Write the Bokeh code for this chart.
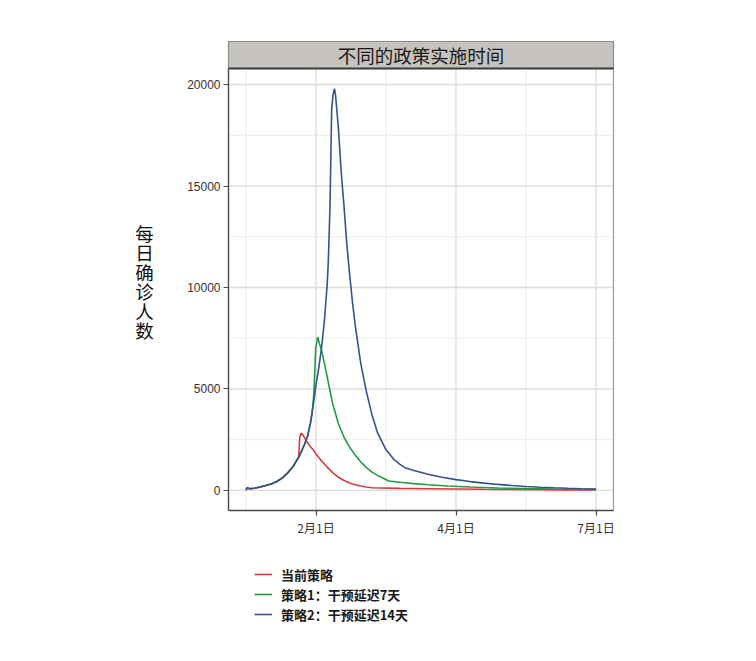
from bokeh.plotting import figure
from bokeh.models import Range1d, FixedTicker, Label, Legend, LegendItem, LinearAxis
from bokeh.embed import file_html
from bokeh.resources import INLINE

# ---------------- data (day index, daily confirmed) ----------------
x_ticks = [50, 100, 150]
x_minor = [25, 75, 125]
x_tick_labels = ["2月1日", "4月1日", "7月1日"]
y_ticks = [0, 5000, 10000, 15000, 20000]
y_minor = [2500, 7500, 12500, 17500]

series_names = ["当前策略", "策略1：干预延迟7天", "策略2：干预延迟14天"]
series_colors = ["#D63C3C", "#1E9C48", "#35528F"]
facet_title = "不同的政策实施时间"
y_title = "每日确诊人数"

red_x = [25, 25.4, 26.3, 28, 30, 32, 34, 36, 38, 40, 42, 43.8, 44.2, 44.7, 45.5, 46.5,
         48, 49, 50, 52, 54, 56, 58, 60, 62, 64, 66, 68, 70, 80, 90, 100, 110, 120,
         130, 140, 150]
red_y = [10, 130, 80, 110, 170, 240, 320, 440, 620, 880, 1220, 1640, 2600, 2830, 2700,
         2450, 2150, 2000, 1800, 1450, 1150, 870, 650, 490, 370, 280, 215, 165, 130, 100,
         85, 70, 55, 45, 35, 28, 22]

green_x = [25, 25.4, 26.3, 28, 30, 32, 34, 36, 38, 40, 42, 44, 46, 47, 48, 48.6, 49.2,
           49.9, 50.6, 51.2, 52, 53, 54, 55, 56, 58, 60, 62, 64, 66, 68, 70, 72, 74, 76,
           80, 85, 90, 97, 105, 115, 125, 135, 150]
green_y = [10, 130, 80, 110, 170, 240, 320, 440, 620, 880, 1220, 1680, 2300, 2680, 3300,
           3800, 4700, 7000, 7560, 7250, 6900, 6250, 5600, 4900, 4250, 3300, 2620, 2130,
           1750, 1400, 1120, 900, 740, 600, 460, 400, 335, 280, 215, 165, 120, 90, 70, 50]

blue_x = [25, 25.4, 26.3, 28, 30, 32, 34, 36, 38, 40, 42, 44, 46, 47, 48, 49, 50, 51, 52,
          53, 54, 54.4, 55, 55.6, 56.1, 56.6, 57, 58, 59, 60, 61, 62, 63, 64, 66, 68, 70,
          72, 75, 78, 80, 82, 85, 90, 95, 100, 105, 110, 115, 120, 125, 130, 135, 140,
          145, 150]
blue_y = [10, 130, 80, 110, 170, 240, 320, 440, 620, 880, 1220, 1680, 2300, 2680, 3300,
          4200, 5200, 6050, 7050, 8350, 10150, 11300, 14000, 18800, 19500, 19800, 19450,
          17850, 15700, 14000, 12150, 10650, 9300, 8150, 6250, 4870, 3720, 2830, 2000,
          1500, 1280, 1100, 980, 800, 650, 530, 435, 360, 295, 240, 195, 158, 128, 104,
          84, 68]

# ---------------- layout (canvas pixels) ----------------
W, H = 740, 645
pan_left, pan_right = 228, 613
strip_top, pan_top, pan_bottom = 41, 68, 510

x_lo, x_hi = 25 - 0.05 * 125, 150 + 0.05 * 125
y_lo, y_hi = 0 - 0.05 * 19800, 19800 + 0.05 * 19800
xpp = (x_hi - x_lo) / (pan_right - pan_left)
ypp = (y_hi - y_lo) / (pan_bottom - pan_top)

def xd(px):
    return x_lo + (px - pan_left) * xpp

def yd(py):
    return y_hi - (py - pan_top) * ypp

y_strip = yd(strip_top)

# the frame spans the whole canvas; axes are pinned to the panel edges
p = figure(width=W, height=H, output_backend="svg", toolbar_location=None,
           x_range=Range1d(xd(0), xd(W)), y_range=Range1d(yd(H), yd(0)),
           x_axis_location=None, y_axis_location=None, min_border=0)
p.outline_line_color = None
p.background_fill_color = "white"
p.border_fill_color = "white"
p.grid.visible = False

# grid lines (panel only)
p.segment(x0=x_minor, x1=x_minor, y0=[y_lo] * len(x_minor), y1=[y_hi] * len(x_minor),
          line_color="#ede6e4", line_width=0.9)
p.segment(x0=[x_lo] * len(y_minor), x1=[x_hi] * len(y_minor), y0=y_minor, y1=y_minor,
          line_color="#ede6e4", line_width=0.9)
p.segment(x0=x_ticks, x1=x_ticks, y0=[y_lo] * len(x_ticks), y1=[y_hi] * len(x_ticks),
          line_color="#e4dbd8", line_width=1.4)
p.segment(x0=[x_lo] * len(y_ticks), x1=[x_hi] * len(y_ticks), y0=y_ticks, y1=y_ticks,
          line_color="#e4dbd8", line_width=1.4)

# right panel border
p.segment(x0=[x_hi], x1=[x_hi], y0=[y_lo], y1=[y_hi], line_color="#9a9a9a", line_width=1.2)

# facet strip
p.quad(left=[x_lo], right=[x_hi], bottom=[y_hi], top=[y_strip],
       fill_color="#c6c2be", line_color="#8c8c8c", line_width=1.2)
p.segment(x0=[x_lo], x1=[x_hi], y0=[y_hi], y1=[y_hi], line_color="#3a3a3a", line_width=2)
p.add_layout(Label(x=(x_lo + x_hi) / 2, y=(y_hi + y_strip) / 2, text=facet_title,
                   text_align="center", text_baseline="middle",
                   text_font="Noto Sans CJK SC", text_font_size="18.5px",
                   text_color="#1a1a1a"))

# series
renderers = []
for xs, yv, c in zip([red_x, green_x, blue_x], [red_y, green_y, blue_y], series_colors):
    renderers.append(p.line(xs, yv, line_color=c, line_width=1.6))

# axes pinned to the panel
yaxis = LinearAxis(fixed_location=x_lo, bounds=(y_lo, y_hi),
                   ticker=FixedTicker(ticks=y_ticks, minor_ticks=y_minor))
xaxis = LinearAxis(fixed_location=y_lo, bounds=(x_lo, x_hi),
                   ticker=FixedTicker(ticks=x_ticks, minor_ticks=x_minor))
xaxis.major_label_overrides = {tk: lb for tk, lb in zip(x_ticks, x_tick_labels)}
for ax in (xaxis, yaxis):
    ax.axis_line_color = "#4a4a4a"
    ax.axis_line_width = 1.4
    ax.major_tick_line_color = "#4a4a4a"
    ax.major_tick_line_width = 1.2
    ax.major_tick_out = 5
    ax.major_tick_in = 0
    ax.minor_tick_line_color = None
    ax.major_label_text_font_size = "12px"
    ax.major_label_text_color = "#333333"
yaxis.major_label_standoff = 3
xaxis.major_label_standoff = 3
yaxis.major_label_text_font = "Liberation Sans"
xaxis.major_label_text_font = "Noto Sans CJK SC"
yaxis.formatter.use_scientific = False
p.add_layout(yaxis, "left")
p.add_layout(xaxis, "below")

# y title, characters stacked vertically
for i, ch in enumerate(y_title):
    p.add_layout(Label(x=xd(144), y=yd(232 + i * 19.5), text=ch,
                       text_align="center", text_baseline="middle",
                       text_font="Noto Sans CJK SC", text_font_size="18.5px",
                       text_color="#111111"))

legend = Legend(items=[LegendItem(label=n, renderers=[r]) for n, r in zip(series_names, renderers)],
                location=(254, H - 564 - 60), orientation="vertical",
                glyph_width=18, glyph_height=20, label_height=20,
                label_standoff=9, spacing=0, padding=0, margin=0,
                border_line_color=None, background_fill_alpha=0,
                label_text_font="Noto Sans CJK SC", label_text_font_size="13px",
                label_text_font_style="bold", label_text_color="#1a1a1a")
p.add_layout(legend, "center")

open("out.html", "w").write(file_html(p, INLINE))
